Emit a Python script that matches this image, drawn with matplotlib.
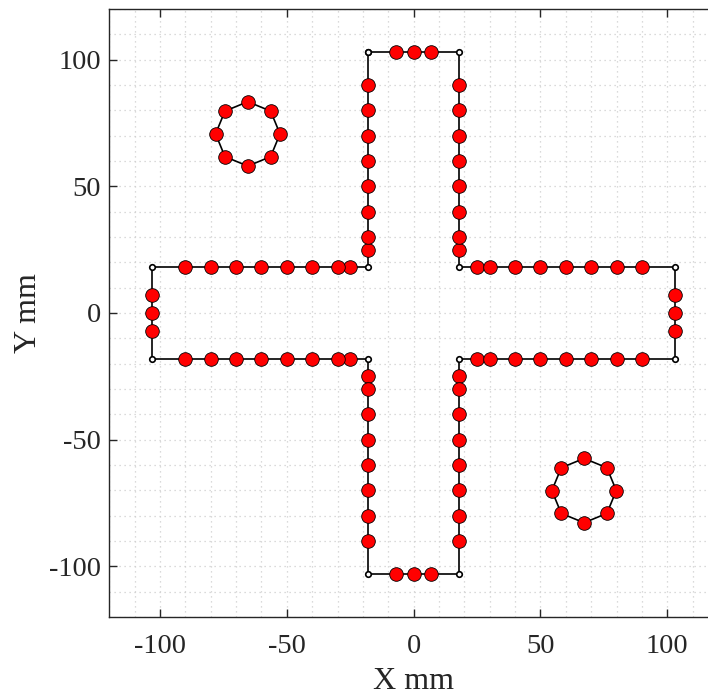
import matplotlib
matplotlib.use("Agg")
import matplotlib.pyplot as plt
from matplotlib.ticker import MultipleLocator

plt.rcParams['font.family'] = ['Liberation Serif', 'DejaVu Serif']

# Cross outline corners (closed polygon)
outline_x = [-18, 18, 18, 103, 103, 18, 18, -18, -18, -103, -103, -18, -18]
outline_y = [103, 103, 18, 18, -18, -18, -103, -103, -18, -18, 18, 18, 103]

# Red points along the cross edges
arm_pos = [25, 30, 40, 50, 60, 70, 80, 90]
end_pos = [-7, 0, 7]
edge = 18
tip = 103

# Octagon points
circ1_x = [-65.4, -56.4, -52.7, -56.4, -65.4, -74.4, -78.1, -74.4]
circ1_y = [83.4, 79.7, 70.7, 61.7, 58.0, 61.7, 70.7, 79.7]
circ2_x = [67.2, 76.2, 79.9, 76.2, 67.2, 58.2, 54.5, 58.2]
circ2_y = [-57.4, -61.1, -70.1, -79.1, -82.8, -79.1, -70.1, -61.1]

xticks = [-100, -50, 0, 50, 100]
yticks = [-100, -50, 0, 50, 100]

fig = plt.figure(figsize=(7.08, 6.97), dpi=100)
ax = fig.add_axes([0.1544, 0.1148, 1.0141 - 0.1544, 0.9871 - 0.1148])

# build red point lists
red_x, red_y = [], []
for s in (1, -1):
    for p in arm_pos:
        red_x += [-edge, edge]
        red_y += [s * p, s * p]
        red_x += [s * p, s * p]
        red_y += [edge, -edge]
for e in end_pos:
    red_x += [e, e, tip, -tip]
    red_y += [tip, -tip, e, e]

ax.plot(outline_x, outline_y, color='black', lw=1.2, zorder=2)
ax.plot(outline_x, outline_y, linestyle='none', marker='o', ms=4.0,
        mfc='white', mec='black', mew=1.2, zorder=3)
ax.plot(red_x, red_y, linestyle='none', marker='o', ms=9.8,
        mfc='#ff0000', mec='black', mew=0.6, zorder=4)

for cx, cy in ((circ1_x, circ1_y), (circ2_x, circ2_y)):
    ax.plot(cx + cx[:1], cy + cy[:1], color='black', lw=1.2, zorder=2)
    ax.plot(cx, cy, linestyle='none', marker='o', ms=9.8,
            mfc='#ff0000', mec='black', mew=0.6, zorder=4)

ax.set_xlim(-120, 120)
ax.set_ylim(-120, 120)
ax.set_xticks(xticks)
ax.set_yticks(yticks)
ax.set_xticklabels([str(t) for t in xticks])
ax.set_yticklabels([str(t) for t in yticks])
ax.xaxis.set_minor_locator(MultipleLocator(10))
ax.yaxis.set_minor_locator(MultipleLocator(10))
ax.grid(True, which='both', linestyle=(0, (1, 3)), color='#cfcfcf', lw=0.9)
ax.set_axisbelow(True)
ax.tick_params(which='major', direction='in', length=6, width=1.0,
               top=True, right=True, labelsize=20.5, colors='#262626')
ax.tick_params(axis='x', which='major', pad=12)
ax.tick_params(axis='y', which='major', pad=6)
ax.tick_params(which='minor', length=0)
for sp in ax.spines.values():
    sp.set_color('#262626')
    sp.set_linewidth(1.0)

ax.set_xlabel('X mm', fontsize=23, labelpad=6, color='#262626')
ax.set_ylabel('Y mm', fontsize=23, labelpad=4, color='#262626')

fig.savefig('out.png', dpi=100)
